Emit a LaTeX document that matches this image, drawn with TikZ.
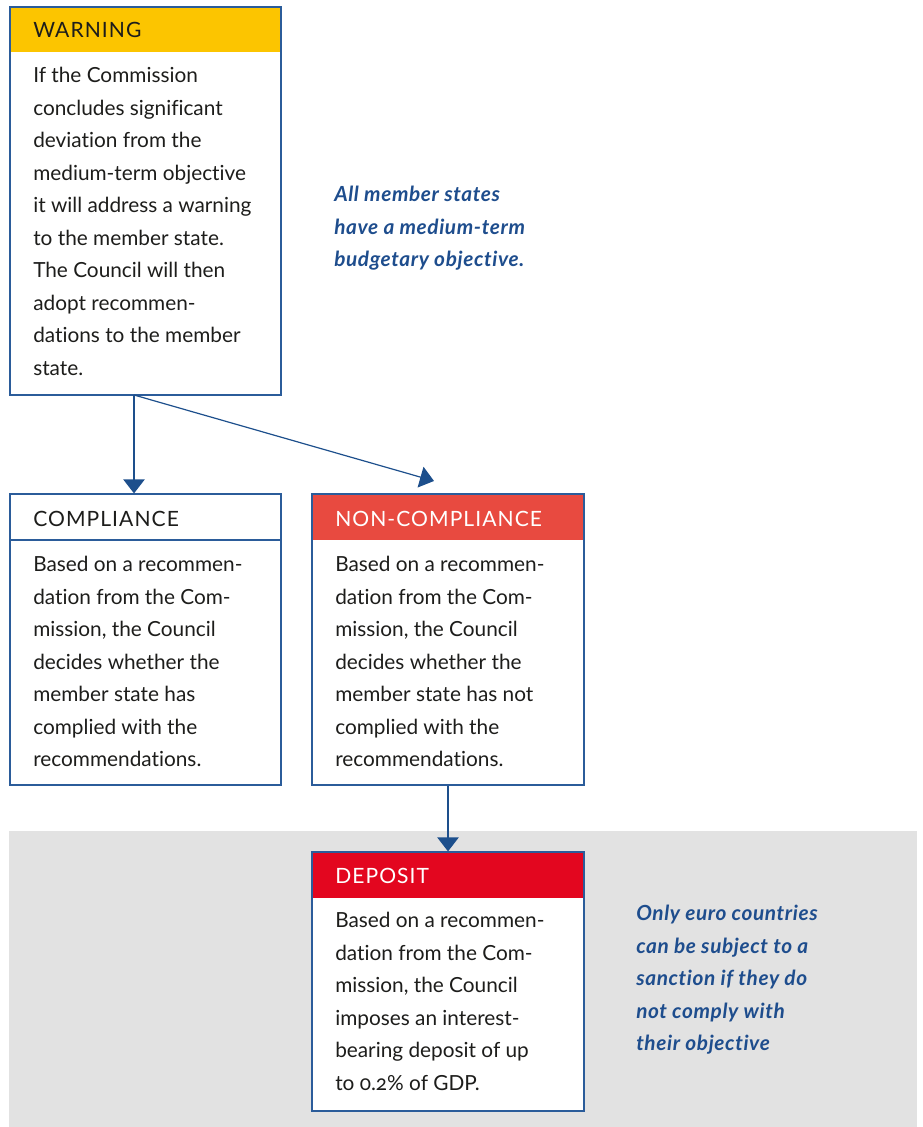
\documentclass[tikz,border=0pt]{standalone}
\usepackage{fontspec}
\setmainfont{Lato}[Numbers=OldStyle,Ligatures=NoCommon]
\usetikzlibrary{arrows.meta,fit}

\definecolor{warnyellow}{HTML}{FCC500}
\definecolor{ncred}{HTML}{E84A40}
\definecolor{depred}{HTML}{E3061F}
\definecolor{boxblue}{HTML}{2B5C9A}
\definecolor{arrowblue}{HTML}{1D4F8C}
\definecolor{noteblue}{HTML}{1E4D8D}
\definecolor{panelgray}{HTML}{E2E2E2}
\definecolor{inktext}{HTML}{1D1D1B}

\begin{document}
\begin{tikzpicture}[x=0.75pt,y=-0.75pt,
  frame/.style={draw=boxblue,line width=0.9pt,inner sep=0pt,fit={#1}},
  headfill/.style={fill=#1,draw=none,inner sep=0pt},
  headtext/.style={anchor=base west,inner sep=0pt,text=inktext,
    font=\fontsize{15.8pt}{24.4pt}\selectfont\addfontfeature{LetterSpace=5}},
  bodytext/.style={anchor=north west,inner sep=0pt,align=left,text=inktext,
    font=\fontsize{15.6pt}{24.4pt}\selectfont},
  notetext/.style={anchor=north west,inner sep=0pt,align=left,text=noteblue,
    font=\fontsize{15.6pt}{24.4pt}\selectfont\bfseries\itshape\addfontfeature{LetterSpace=3}},
  flow/.style={draw=arrowblue,line width=0.9pt,
    -{Triangle[width=16pt,length=10.5pt]}}
]
\useasboundingbox (0,0) rectangle (922,1127);

% grey panel behind the sanction step
\node[fill=panelgray,inner sep=0pt,fit={(9,831) (917,1127)}] (panel) {};

% header bands
\node[headfill=warnyellow,fit={(10,7) (281,52)}] (warnhead) {};
\node[headfill=ncred,fit={(312,494) (584,540)}] (nchead) {};
\node[headfill=depred,fit={(312,852) (584,898)}] (dephead) {};
\node[headfill=white,fit={(312,898) (584,1111)}] (depbody) {};

% box outlines
\node[frame={(10,7) (281,395)}] (warn) {};
\node[frame={(10,494) (281,785)}] (comp) {};
\draw[boxblue,line width=0.9pt] (comp.west |- 0,540) -- (comp.east |- 0,540);
\node[frame={(312,494) (584,785)}] (nc) {};
\node[frame={(312,852) (584,1111)}] (dep) {};

% header titles
\node[headtext] (warntitle) at (33,38) {WARNING};
\node[headtext] (comptitle) at (33,526) {COMPLIANCE};
\node[headtext,text=white] (nctitle) at (335,526) {NON-COMPLIANCE};
\node[headtext,text=white] (deptitle) at (335,883) {DEPOSIT};

% box texts
\node[bodytext] (warntext) at (33,67) {If the Commission\\concludes significant\\deviation from the\\medium-term objective\\it will address a warning\\to the member state.\\The Council will then\\adopt recommen-\\dations to the member\\state.};
\node[bodytext] (comptext) at (33,556) {Based on a recommen-\\dation from the Com-\\mission, the Council\\decides whether the\\member state has\\complied with the\\recommendations.};
\node[bodytext] (nctext) at (335,556) {Based on a recommen-\\dation from the Com-\\mission, the Council\\decides whether the\\member state has not\\complied with the\\recommendations.};
\node[bodytext] (deptext) at (335,912) {Based on a recommen-\\dation from the Com-\\mission, the Council\\imposes an interest-\\bearing deposit of up\\to 0.2\% of GDP.};

% side notes
\node[notetext] (note1) at (334,186) {All member states\\have a medium-term\\budgetary objective.};
\node[notetext] (note2) at (636,905) {Only euro countries\\can be subject to a\\sanction if they do\\not comply with\\their objective};

% connectors
\coordinate (split) at (134,395);
\coordinate (nctip) at (434,481);
\draw[flow] (split) -- (split |- comp.north);
\draw[flow] (split) -- (nctip);
\draw[flow] (nc.south) -- (dep.north);
\end{tikzpicture}
\end{document}
